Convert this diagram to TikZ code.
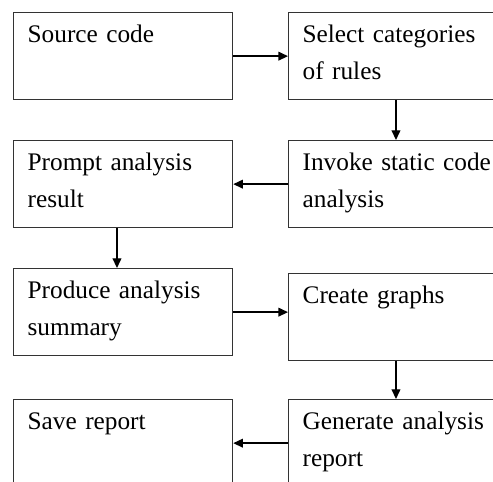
\documentclass[tikz,border=0pt]{standalone}
\usepackage{fontspec}
\setmainfont{Liberation Serif}
\usetikzlibrary{arrows.meta, positioning}
\newcommand{\boxfont}{\fontsize{14.4}{21}\selectfont\spaceskip=0.18em\relax}

\begin{document}
\begin{tikzpicture}[x=0.02cm, y=-0.02cm,
  box/.style={draw=black!80, line width=0.75pt, anchor=north west, align=left,
    text width=3.82cm, inner xsep=0.28cm, inner ysep=0.26cm,
    text height=0.34cm, text depth=0.88cm, font=\boxfont},
  wide/.style={text width=4.3cm},
  arrow/.style={-{Triangle[length=5.5pt, width=5pt]}, line width=0.75pt}
]
  \path[use as bounding box, clip] (0, 0) rectangle (493, 482);

  \node[box] (src) at (13, 12) {Source code};
  \node[box, wide] (sel) at (288, 12) {Select categories\\of rules};
  \node[box] (prm) at (13, 140) {Prompt analysis\\result};
  \node[box, wide] (inv) at (288, 140) {Invoke static code\\analysis};
  \node[box] (prd) at (13, 268) {Produce analysis\\summary};
  \node[box, wide] (grp) at (288, 273) {Create graphs};
  \node[box] (sav) at (13, 399) {Save report};
  \node[box, wide] (gen) at (288, 399) {Generate analysis\\report};

  \draw[arrow] (src) -- (sel);
  \draw[arrow] ([xshift=2.16cm]sel.south west) -- ([xshift=2.16cm]inv.north west);
  \draw[arrow] (inv) -- (prm);
  \draw[arrow] ([xshift=2.08cm]prm.south west) -- ([xshift=2.08cm]prd.north west);
  \draw[arrow] (prd.east) -- (prd.east -| grp.west);
  \draw[arrow] ([xshift=2.16cm]grp.south west) -- ([xshift=2.16cm]gen.north west);
  \draw[arrow] (gen) -- (sav);
\end{tikzpicture}
\end{document}
